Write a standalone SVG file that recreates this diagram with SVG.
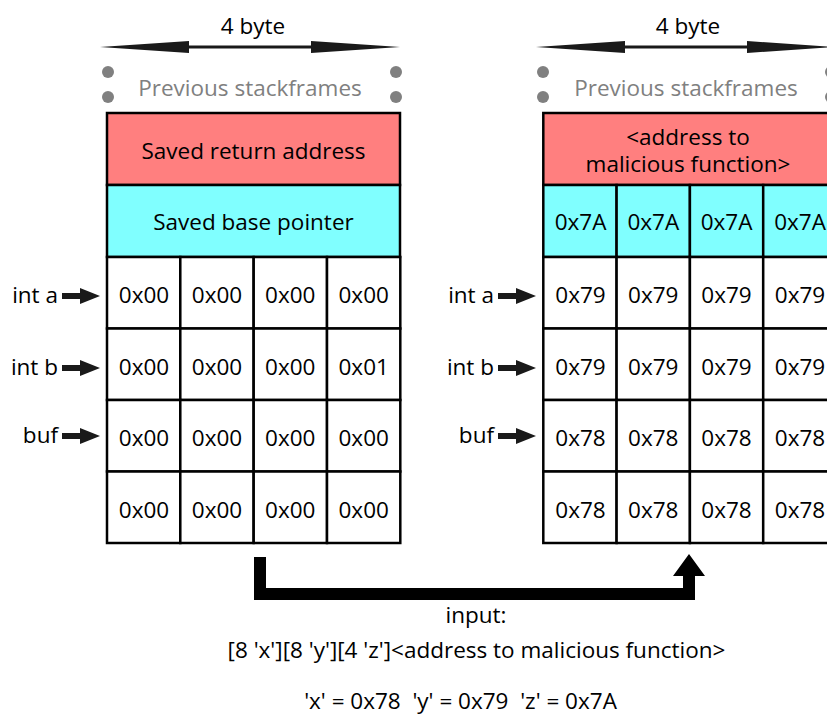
<svg xmlns="http://www.w3.org/2000/svg" width="827" height="715" viewBox="0 0 827 715">
<style>
text{font-family:"Open Sans","DejaVu Sans",sans-serif;font-size:22.5px;fill:#000;text-anchor:middle}
.g{fill:#808080}
.l{text-anchor:end}
.cell{fill:#fff;stroke:#000;stroke-width:2.5}
.red{fill:#FF7F7F;stroke:#000;stroke-width:2.5}
.cyan{fill:#80FFFF;stroke:#000;stroke-width:2.5}
.dot{fill:#808080}
</style>
<defs>
<g id="dimarrow">
<path d="M0,0 L89,-6 L89,-1.5 L211,-1.5 L211,-6 L300,0 L211,6 L211,1.5 L89,1.5 L89,6 Z" fill="#1a1a1a"/>
</g>
<g id="ptr">
<path d="M0,-3 L18,-3 L18,-8 L38,0 L18,8 L18,3 L0,3 Z" fill="#1a1a1a"/>
</g>
</defs>

<!-- Left stack -->
<g id="left-header">
<text x="253" y="34">4 byte</text>
<use href="#dimarrow" x="100" y="47"/>
<circle class="dot" cx="108" cy="72" r="6"/>
<circle class="dot" cx="108" cy="97" r="6"/>
<circle class="dot" cx="396" cy="72" r="6"/>
<circle class="dot" cx="396" cy="97" r="6"/>
<text class="g" x="250" y="96">Previous stackframes</text>
</g>
<g id="left-ret">
<rect class="red" x="107" y="113" width="293" height="72"/>
<text x="253.5" y="159">Saved return address</text>
</g>
<g id="left-bp">
<rect class="cyan" x="107" y="185" width="293" height="72"/>
<text x="253.5" y="230">Saved base pointer</text>
</g>
<g id="left-grid">
<rect class="cell" x="107" y="257" width="73.3" height="71.5"/>
<rect class="cell" x="180.3" y="257" width="73.3" height="71.5"/>
<rect class="cell" x="253.7" y="257" width="73.3" height="71.5"/>
<rect class="cell" x="327" y="257" width="73.3" height="71.5"/>
<rect class="cell" x="107" y="328.5" width="73.3" height="71.5"/>
<rect class="cell" x="180.3" y="328.5" width="73.3" height="71.5"/>
<rect class="cell" x="253.7" y="328.5" width="73.3" height="71.5"/>
<rect class="cell" x="327" y="328.5" width="73.3" height="71.5"/>
<rect class="cell" x="107" y="400" width="73.3" height="71.5"/>
<rect class="cell" x="180.3" y="400" width="73.3" height="71.5"/>
<rect class="cell" x="253.7" y="400" width="73.3" height="71.5"/>
<rect class="cell" x="327" y="400" width="73.3" height="71.5"/>
<rect class="cell" x="107" y="471.5" width="73.3" height="71.5"/>
<rect class="cell" x="180.3" y="471.5" width="73.3" height="71.5"/>
<rect class="cell" x="253.7" y="471.5" width="73.3" height="71.5"/>
<rect class="cell" x="327" y="471.5" width="73.3" height="71.5"/>
<text x="144" y="303">0x00</text><text x="217" y="303">0x00</text><text x="290.3" y="303">0x00</text><text x="363.7" y="303">0x00</text>
<text x="144" y="375">0x00</text><text x="217" y="375">0x00</text><text x="290.3" y="375">0x00</text><text x="363.7" y="375">0x01</text>
<text x="144" y="446">0x00</text><text x="217" y="446">0x00</text><text x="290.3" y="446">0x00</text><text x="363.7" y="446">0x00</text>
<text x="144" y="518">0x00</text><text x="217" y="518">0x00</text><text x="290.3" y="518">0x00</text><text x="363.7" y="518">0x00</text>
</g>
<g id="left-labels">
<text class="l" x="58" y="303">int a</text>
<use href="#ptr" x="62" y="296"/>
<text class="l" x="58" y="375">int b</text>
<use href="#ptr" x="62" y="368"/>
<text class="l" x="58" y="443">buf</text>
<use href="#ptr" x="62" y="436"/>
</g>

<!-- Right stack -->
<g id="right-header">
<text x="688" y="34">4 byte</text>
<use href="#dimarrow" x="536" y="47"/>
<circle class="dot" cx="543" cy="72" r="6"/>
<circle class="dot" cx="543" cy="97" r="6"/>
<circle class="dot" cx="831" cy="72" r="6"/>
<circle class="dot" cx="831" cy="97" r="6"/>
<text class="g" x="686" y="96">Previous stackframes</text>
</g>
<g id="right-ret">
<rect class="red" x="543.3" y="113" width="293" height="72"/>
<text x="688" y="145">&lt;address to<tspan x="688" dy="27">malicious function&gt;</tspan></text>
</g>
<g id="right-bp">
<rect class="cyan" x="543.3" y="185" width="73.3" height="72"/>
<rect class="cyan" x="616.6" y="185" width="73.3" height="72"/>
<rect class="cyan" x="689.9" y="185" width="73.3" height="72"/>
<rect class="cyan" x="763.2" y="185" width="73.3" height="72"/>
<text x="580.5" y="230">0x7A</text><text x="653.3" y="230">0x7A</text><text x="726.5" y="230">0x7A</text><text x="800" y="230">0x7A</text>
</g>
<g id="right-grid">
<rect class="cell" x="543.3" y="257" width="73.3" height="71.5"/>
<rect class="cell" x="616.6" y="257" width="73.3" height="71.5"/>
<rect class="cell" x="689.9" y="257" width="73.3" height="71.5"/>
<rect class="cell" x="763.2" y="257" width="73.3" height="71.5"/>
<rect class="cell" x="543.3" y="328.5" width="73.3" height="71.5"/>
<rect class="cell" x="616.6" y="328.5" width="73.3" height="71.5"/>
<rect class="cell" x="689.9" y="328.5" width="73.3" height="71.5"/>
<rect class="cell" x="763.2" y="328.5" width="73.3" height="71.5"/>
<rect class="cell" x="543.3" y="400" width="73.3" height="71.5"/>
<rect class="cell" x="616.6" y="400" width="73.3" height="71.5"/>
<rect class="cell" x="689.9" y="400" width="73.3" height="71.5"/>
<rect class="cell" x="763.2" y="400" width="73.3" height="71.5"/>
<rect class="cell" x="543.3" y="471.5" width="73.3" height="71.5"/>
<rect class="cell" x="616.6" y="471.5" width="73.3" height="71.5"/>
<rect class="cell" x="689.9" y="471.5" width="73.3" height="71.5"/>
<rect class="cell" x="763.2" y="471.5" width="73.3" height="71.5"/>
<text x="580.5" y="303">0x79</text><text x="653.3" y="303">0x79</text><text x="726.5" y="303">0x79</text><text x="800" y="303">0x79</text>
<text x="580.5" y="375">0x79</text><text x="653.3" y="375">0x79</text><text x="726.5" y="375">0x79</text><text x="800" y="375">0x79</text>
<text x="580.5" y="446">0x78</text><text x="653.3" y="446">0x78</text><text x="726.5" y="446">0x78</text><text x="800" y="446">0x78</text>
<text x="580.5" y="518">0x78</text><text x="653.3" y="518">0x78</text><text x="726.5" y="518">0x78</text><text x="800" y="518">0x78</text>
</g>
<g id="right-labels">
<text class="l" x="494" y="303">int a</text>
<use href="#ptr" x="498" y="296"/>
<text class="l" x="494" y="375">int b</text>
<use href="#ptr" x="498" y="368"/>
<text class="l" x="494" y="443">buf</text>
<use href="#ptr" x="498" y="436"/>
</g>

<!-- Connector -->
<g id="connectors">
<path d="M254,557 L266,557 L266,588 L683,588 L683,576 L673,576 L689,554 L705,576 L695,576 L695,600 L254,600 Z" fill="#000"/>
</g>

<g id="caption">
<text x="476" y="623">input:</text>
<text x="476.5" y="658">[8 'x'][8 'y'][4 'z']&lt;address to malicious function&gt;</text>
<text x="460.5" y="709" xml:space="preserve">'x' = 0x78  'y' = 0x79  'z' = 0x7A</text>
</g>
</svg>
